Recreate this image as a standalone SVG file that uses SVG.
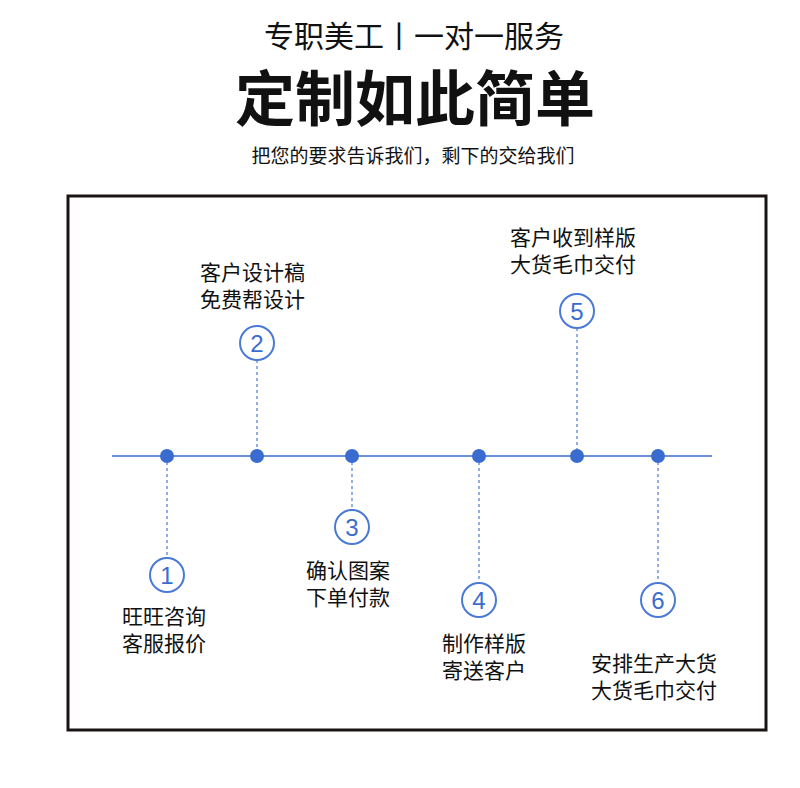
<svg xmlns="http://www.w3.org/2000/svg" width="800" height="788" viewBox="0 0 800 788">
<style>
text{font-family:"Noto Sans CJK SC","Noto Sans",sans-serif;fill:#111}
.lb{font-size:21px}
.dot{fill:#3a6cd0}
.ring{fill:#fff;stroke:#4a7ad6;stroke-width:2}
.num{font-family:"Liberation Sans",sans-serif;font-size:24px;fill:#3a6cd0;text-anchor:middle}
.dash{stroke:#4a7ad6;stroke-width:1.2;stroke-dasharray:3 3;fill:none}
</style>
<rect width="800" height="788" fill="#fff"/>
<text x="414" y="47" font-size="30" text-anchor="middle">专职美工丨一对一服务</text>
<text x="415" y="121" font-size="60" font-weight="bold" text-anchor="middle">定制如此简单</text>
<text x="413" y="163" font-size="19" text-anchor="middle">把您的要求告诉我们，剩下的交给我们</text>
<rect x="68" y="196" width="698" height="534" fill="none" stroke="#1a1414" stroke-width="3"/>
<g id="connectors">
<line x1="112" y1="456" x2="712" y2="456" stroke="#3a6cd0" stroke-width="1.5"/>
<line class="dash" x1="167" y1="456" x2="167" y2="558"/>
<line class="dash" x1="257" y1="360" x2="257" y2="456"/>
<line class="dash" x1="352" y1="456" x2="352" y2="510"/>
<line class="dash" x1="479" y1="456" x2="479" y2="583"/>
<line class="dash" x1="577" y1="328" x2="577" y2="456"/>
<line class="dash" x1="658" y1="456" x2="658" y2="583"/>
</g>
<g id="n1"><circle class="dot" cx="167" cy="456" r="7"/><circle class="ring" cx="167" cy="575" r="17"/><text class="num" x="167" y="584">1</text><text class="lb" x="122" y="624">旺旺咨询</text><text class="lb" x="122" y="651">客服报价</text></g>
<g id="n2"><circle class="dot" cx="257" cy="456" r="7"/><circle class="ring" cx="257" cy="343" r="17"/><text class="num" x="257" y="352">2</text><text class="lb" x="200" y="280">客户设计稿</text><text class="lb" x="200" y="307">免费帮设计</text></g>
<g id="n3"><circle class="dot" cx="352" cy="456" r="7"/><circle class="ring" cx="352" cy="527" r="17"/><text class="num" x="352" y="536">3</text><text class="lb" x="306" y="578">确认图案</text><text class="lb" x="306" y="605">下单付款</text></g>
<g id="n4"><circle class="dot" cx="479" cy="456" r="7"/><circle class="ring" cx="479" cy="600" r="17"/><text class="num" x="479" y="609">4</text><text class="lb" x="442" y="651">制作样版</text><text class="lb" x="442" y="678">寄送客户</text></g>
<g id="n5"><circle class="dot" cx="577" cy="456" r="7"/><circle class="ring" cx="577" cy="311" r="17"/><text class="num" x="577" y="320">5</text><text class="lb" x="510" y="245">客户收到样版</text><text class="lb" x="510" y="272">大货毛巾交付</text></g>
<g id="n6"><circle class="dot" cx="658" cy="456" r="7"/><circle class="ring" cx="658" cy="600" r="17"/><text class="num" x="658" y="609">6</text><text class="lb" x="591" y="671">安排生产大货</text><text class="lb" x="591" y="698">大货毛巾交付</text></g>
</svg>
